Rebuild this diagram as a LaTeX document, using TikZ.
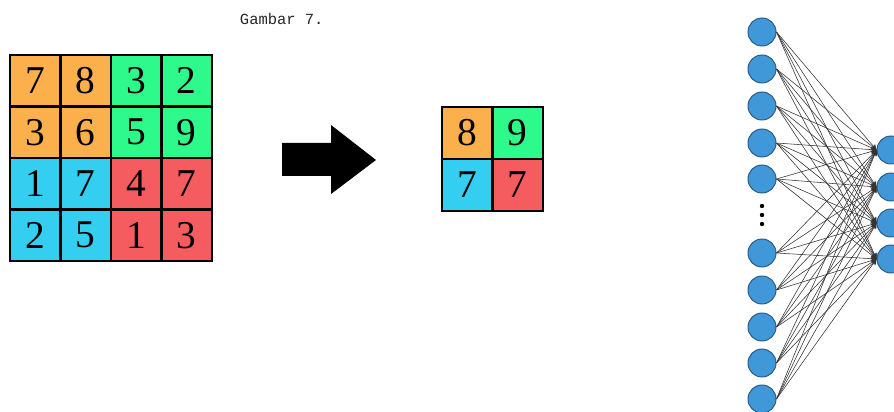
\documentclass[tikz,border=0pt]{standalone}
\usepackage{fontspec}
\setmainfont{Liberation Serif}
\newfontfamily\captionfont{Liberation Mono}
\usepackage{tikz}
\usetikzlibrary{arrows.meta}
\usepackage{xcolor}

\definecolor{poolorange}{RGB}{252,176,76}
\definecolor{poolgreen}{RGB}{46,250,140}
\definecolor{poolcyan}{RGB}{52,206,240}
\definecolor{poolred}{RGB}{244,92,96}
\definecolor{neuronfill}{RGB}{64,152,216}
\definecolor{neurondraw}{RGB}{40,90,135}

\tikzset{
  cell/.style={draw=black, line width=1.5pt, inner sep=0pt, outer sep=0pt,
    minimum width=1.2625cm, minimum height=1.2875cm,
    font=\fontsize{28}{30}\selectfont},
  neuron/.style={circle, draw=neurondraw, fill=neuronfill, line width=0.7pt,
    minimum size=0.7cm, inner sep=0pt},
  link/.style={draw=black!80, line width=0.4pt, -{Stealth[length=4pt, width=4pt]}}
}

\begin{document}
\begin{tikzpicture}[x=0.025cm, y=-0.025cm]
  \useasboundingbox (0,0) rectangle (894,412);
  \clip (0,0) rectangle (894,412);

  % caption
  \node[anchor=west, font=\captionfont\fontsize{11}{12}\selectfont, text=black!85] (caption) at (235,19) {Gambar 7.};

  % input feature map, 4x4
  \foreach \val/\col [count=\k from 0] in
      {7/poolorange, 8/poolorange, 3/poolgreen, 2/poolgreen,
       3/poolorange, 6/poolorange, 5/poolgreen, 9/poolgreen,
       1/poolcyan, 7/poolcyan, 4/poolred, 7/poolred,
       2/poolcyan, 5/poolcyan, 1/poolred, 3/poolred} {
    \pgfmathtruncatemacro{\r}{int(\k/4)}
    \pgfmathtruncatemacro{\c}{mod(\k,4)}
    \node[cell, fill=\col] (in\r\c) at ({35.25+50.5*\c},{80.75+51.5*\r}) {\val};
  }

  % max pooling arrow
  \fill[black] (282,143) -- (331,143) -- (331,125) -- (376,160)
    -- (331,194) -- (331,176) -- (282,176) -- cycle;

  % pooled map, 2x2
  \node[cell, fill=poolorange] (pool00) at (467.25,133) {8};
  \node[cell, fill=poolgreen]  (pool01) at (517.75,133) {9};
  \node[cell, fill=poolcyan]   (pool10) at (467.25,185) {7};
  \node[cell, fill=poolred]    (pool11) at (517.75,185) {7};

  % input layer of the network
  \foreach \y [count=\i] in {32,69,106,143,179,253,290,327,363,399}
    \node[neuron] (n\i) at (762,\y) {};

  % vertical ellipsis between the neurons
  \foreach \y in {206,215,224}
    \fill[black] (762,\y) circle (2.2);

  % output layer
  \foreach \y [count=\j] in {150,187,223,259}
    \node[neuron] (m\j) at (891,\y) {};

  % fully connected links
  \foreach \i in {1,...,10}
    \foreach \j in {1,...,4}
      \draw[link] (n\i.east) -- (m\j.west);
\end{tikzpicture}
\end{document}
